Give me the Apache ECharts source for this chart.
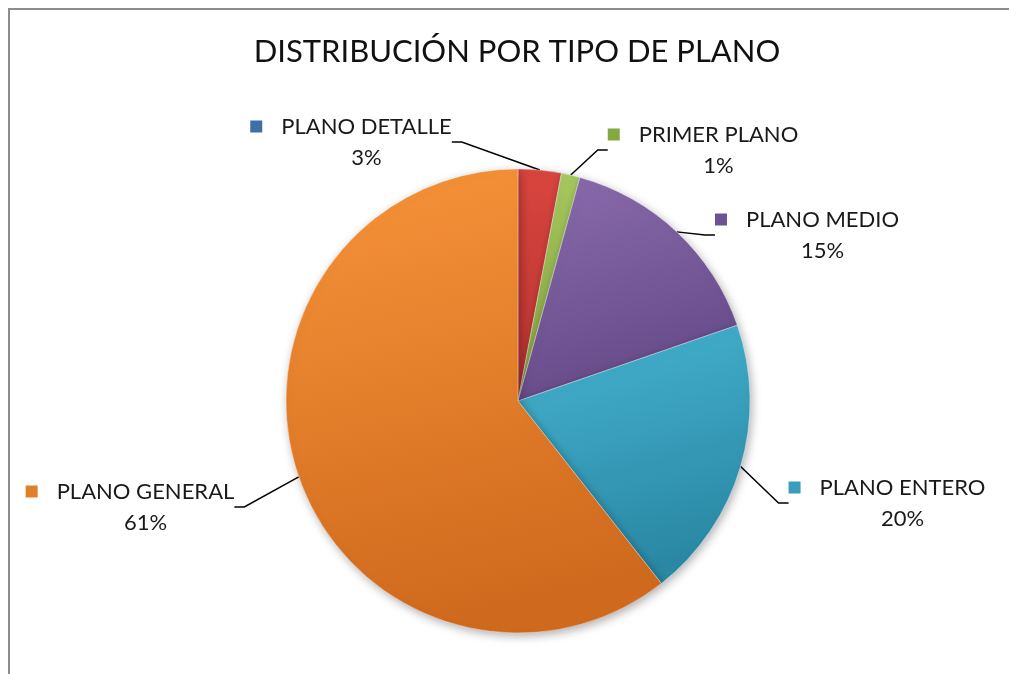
<!DOCTYPE html>
<html>
<head>
<meta charset="utf-8">
<script src="https://cdn.jsdelivr.net/npm/echarts@6/dist/echarts.min.js"></script>
<style>
  html, body { margin: 0; padding: 0; background: #fff; }
  #chart { width: 1009px; height: 674px; }
</style>
</head>
<body>
<div id="chart"></div>
<script>
// data
var categories = ['PLANO DETALLE', 'PRIMER PLANO', 'PLANO MEDIO', 'PLANO ENTERO', 'PLANO GENERAL'];
var values = [3, 1.3, 15.4, 19.7, 60.6];

// slice colours (top, bottom) and the little legend key colours
var sliceTop = ['#d9453f', '#a8c960', '#8a6cae', '#46b4d1', '#f8943a'];
var sliceBottom = ['#b53330', '#7f9f3d', '#664a88', '#2a88a4', '#cf691d'];
var keyColors = ['#3f6fa8', '#86a840', '#6c5290', '#3a9dba', '#e0802a'];

// label block centres
var labelPos = [[351, 142], [703, 150], [807, 235], [887, 503], [130, 507]];

var font = 'Lato';
var rich = {
    name: { fontFamily: font, fontSize: 22, color: '#1a1a1a', lineHeight: 31 },
    pct: { fontFamily: font, fontSize: 22, color: '#1a1a1a', lineHeight: 31, padding: [0, 0, 0, 31] }
};
for (var k = 0; k < keyColors.length; k++) {
    rich['icon' + k] = { width: 12, height: 12, backgroundColor: keyColors[k] };
    rich['gap' + k] = { width: 19 };
}

var data = [];
for (var i = 0; i < categories.length; i++) {
    data.push({
        name: categories[i],
        value: values[i],
        itemStyle: {
            color: new echarts.graphic.LinearGradient(0, 0, 0.3, 1, [
                { offset: 0, color: sliceTop[i] },
                { offset: 1, color: sliceBottom[i] }
            ])
        }
    });
}

var chart = echarts.init(document.getElementById('chart'));
chart.setOption({
    animation: false,
    backgroundColor: '#fff',
    title: {
        text: 'DISTRIBUCIÓN POR TIPO DE PLANO',
        left: 512,
        top: 31,
        textAlign: 'center',
        textStyle: { fontFamily: font, fontSize: 31, fontWeight: 'normal', color: '#111' }
    },
    graphic: [{
        type: 'polyline',
        shape: { points: [[9, 700], [9, 9], [1100, 9]] },
        style: { fill: 'none', stroke: '#8c8c8c', lineWidth: 2 },
        silent: true
    }],
    series: [{
        type: 'pie',
        center: [518, 401],
        radius: 232,
        startAngle: 90,
        clockwise: true,
        data: data,
        itemStyle: {
            borderColor: 'rgba(255,255,255,0.35)',
            borderWidth: 1,
            shadowBlur: 10,
            shadowOffsetX: 2,
            shadowOffsetY: 3,
            shadowColor: 'rgba(0,0,0,0.3)'
        },
        label: {
            show: true,
            position: 'outside',
            align: 'center',
            formatter: function (p) {
                return '{icon' + p.dataIndex + '|}{gap' + p.dataIndex + '|}{name|' + p.name + '}\n{pct|' + Math.round(p.percent) + '%}';
            },
            rich: rich
        },
        labelLine: {
            show: true,
            length: 15,
            length2: 10,
            lineStyle: { color: '#000', width: 1.5 }
        },
        labelLayout: function (params) {
            var pos = labelPos[params.dataIndex];
            return { x: pos[0], y: pos[1], align: 'center', verticalAlign: 'middle' };
        }
    }]
});
</script>
</body>
</html>
